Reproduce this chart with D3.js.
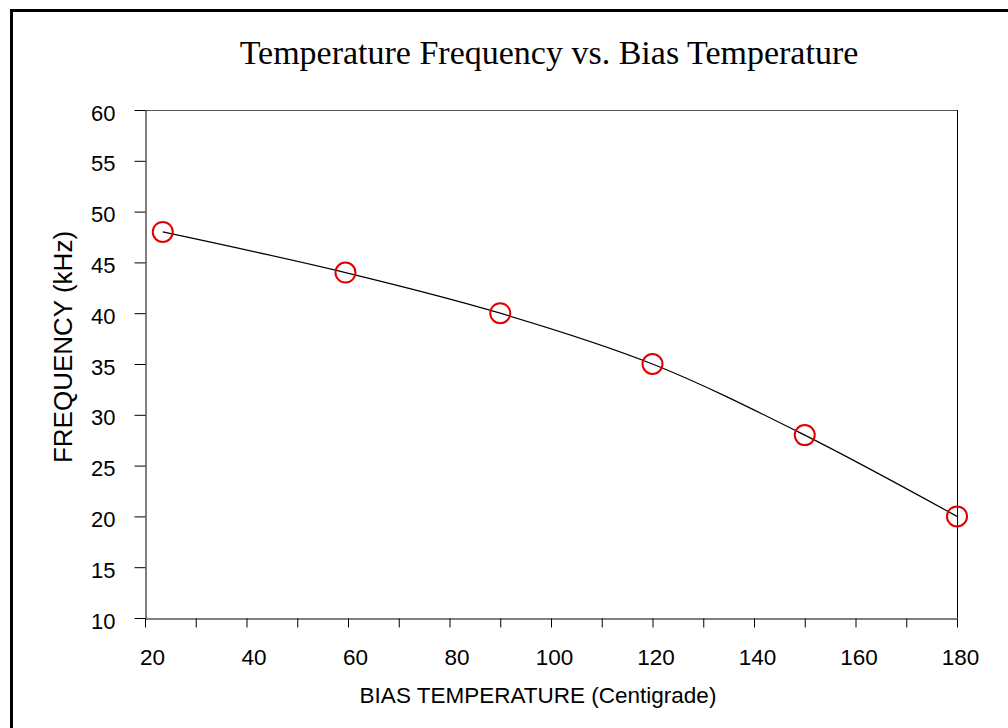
<!DOCTYPE html>
<html><head><meta charset="utf-8">
<script src="https://cdn.jsdelivr.net/npm/d3@7"></script>
<style>body{margin:0;background:#fff}svg{display:block}</style>
</head><body><svg id="c" width="1008" height="728"></svg>
<script>
const temps = [23.5, 59.5, 90, 120, 150, 180];
const freqs = [48, 44, 40, 35, 28, 20];
const xTicks = [20, 30, 40, 50, 60, 70, 80, 90, 100, 110, 120, 130, 140, 150, 160, 170, 180];
const xLabels = [20, 40, 60, 80, 100, 120, 140, 160, 180];
const yTicks = [10, 15, 20, 25, 30, 35, 40, 45, 50, 55, 60];
const title = "Temperature Frequency vs. Bias Temperature";
const xTitle = "BIAS TEMPERATURE (Centigrade)";
const yTitle = "FREQUENCY (kHz)";

const svg = d3.select("#c");
const L = 145, R = 957, T = 110, B = 618;
const x = d3.scaleLinear().domain([20, 180]).range([L, R]);
const y = d3.scaleLinear().domain([10, 60]).range([B, T]);
const SANS = "Liberation Sans, Arial, sans-serif";

// outer frame
svg.append("rect").attr("x", 11.5).attr("y", 10.5).attr("width", 1100).attr("height", 800)
  .attr("fill", "none").attr("stroke", "#000").attr("stroke-width", 3);

// plot box top/right
svg.append("line").attr("x1", L).attr("x2", R).attr("y1", T + 0.5).attr("y2", T + 0.5).attr("stroke", "#555").attr("stroke-width", 1);
svg.append("line").attr("x1", R + 0.5).attr("x2", R + 0.5).attr("y1", T).attr("y2", B).attr("stroke", "#000").attr("stroke-width", 1);

// x axis
const gx = svg.append("g").attr("transform", `translate(0,${B + 0.5})`)
  .call(d3.axisBottom(x).tickValues(xTicks).tickSizeInner(9).tickSizeOuter(0).tickFormat(d => xLabels.includes(d) ? d : ""));
gx.select(".domain").attr("stroke", "#555").attr("stroke-width", 1.5);
gx.selectAll(".tick line").attr("stroke", "#000");
gx.selectAll(".tick text").attr("font-family", SANS).attr("font-size", 22.5).attr("fill", "#000")
  .attr("y", 46.5).attr("dy", 0)
  .attr("dx", function () { return this.textContent.length === 2 ? 7 : 3; });

// y axis
const gy = svg.append("g").attr("transform", `translate(${L + 0.5},0)`)
  .call(d3.axisLeft(y).tickValues(yTicks).tickSizeInner(11).tickSizeOuter(0));
gy.select(".domain").attr("stroke", "#000").attr("stroke-width", 1);
gy.selectAll(".tick line").attr("stroke", "#000");
gy.selectAll(".tick text").attr("font-family", SANS).attr("font-size", 22).attr("fill", "#000")
  .attr("x", -30).attr("dy", null).attr("y", 10);

// curve
const pts = temps.map((t, i) => [t, freqs[i]]);
svg.append("path").datum(pts)
  .attr("d", d3.line().x(d => x(d[0])).y(d => y(d[1])).curve(d3.curveCatmullRom.alpha(0.5)))
  .attr("fill", "none").attr("stroke", "#000").attr("stroke-width", 1.2);

// markers
svg.selectAll("circle.m").data(pts).join("circle").attr("class", "m")
  .attr("cx", d => x(d[0])).attr("cy", d => y(d[1])).attr("r", 10)
  .attr("fill", "none").attr("stroke", "#e00000").attr("stroke-width", 2);

// titles
svg.append("text").attr("x", 549).attr("y", 64).attr("text-anchor", "middle")
  .attr("font-family", "Liberation Serif, Times New Roman, serif").attr("font-size", 34).text(title);
svg.append("text").attr("x", 538).attr("y", 703).attr("text-anchor", "middle")
  .attr("font-family", SANS).attr("font-size", 22.5).text(xTitle);
svg.append("text").attr("transform", "translate(72,347) rotate(-90)").attr("text-anchor", "middle")
  .attr("font-family", SANS).attr("font-size", 26).text(yTitle);
</script></body></html>
